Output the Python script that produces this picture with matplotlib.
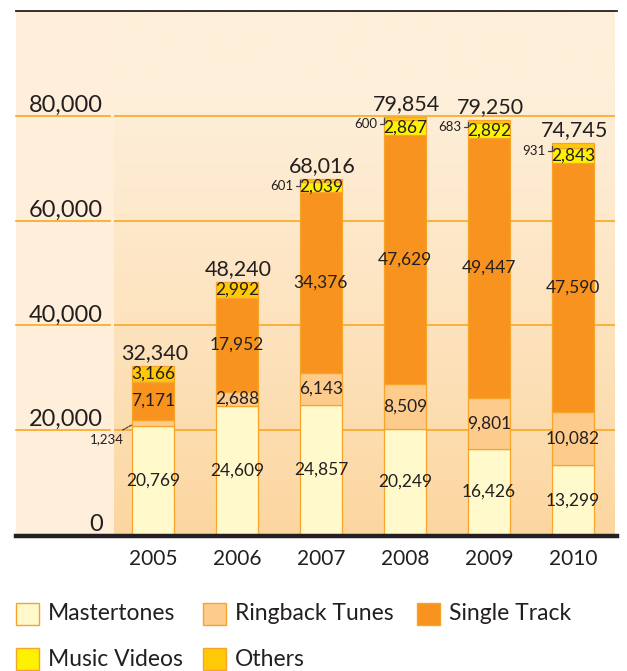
import numpy as np
import matplotlib
matplotlib.use("Agg")
import matplotlib.pyplot as plt
from matplotlib.patches import Rectangle
from matplotlib.lines import Line2D
from matplotlib.transforms import blended_transform_factory

plt.rcParams['font.family'] = ['Lato', 'DejaVu Sans']

years = ["2005", "2006", "2007", "2008", "2009", "2010"]
mastertones = [20769, 24609, 24857, 20249, 16426, 13299]
ringback = [1234, 2688, 6143, 8509, 9801, 10082]
single_track = [7171, 17952, 34376, 47629, 49447, 47590]
music_videos = [0, 0, 2039, 2867, 2892, 2843]
others = [3166, 2992, 601, 600, 683, 931]
totals = [32340, 48240, 68016, 79854, 79250, 74745]
yticks = [0, 20000, 40000, 60000, 80000]

series_names = ["Mastertones", "Ringback Tunes", "Single Track", "Music Videos", "Others"]
series = [mastertones, ringback, single_track, music_videos, others]
colors = ["#FFF9CC", "#FDCB8C", "#F7931E", "#FFF200", "#FFC907"]
edge = "#F6A52A"
txt = "#231F20"

W, H = 627, 671
fig = plt.figure(figsize=(W / 100, H / 100), dpi=100)
fig.patch.set_facecolor("white")

def fx(px):
    return px / W

def fy(py):
    return 1 - py / H

ax_l, ax_r, ax_t, ax_b = 114, 615, 11, 535
ax = fig.add_axes([fx(ax_l), fy(ax_b), fx(ax_r - ax_l), (ax_b - ax_t) / H])
ax.set_facecolor("none")
ax.set_zorder(1)

# left label strip (behind the axes)
fig.patches.append(Rectangle((fx(16), fy(ax_b)), fx(ax_l - 16), (ax_b - ax_t) / H,
                             transform=fig.transFigure, facecolor="#FEEEDA",
                             edgecolor="none", zorder=-1))

# gradient background of plot area
n = 256
t = np.linspace(0, 1, n)[:, None]  # 0 top -> 1 bottom
top_c = np.array([254, 239, 218]) / 255
bot_c = np.array([252, 214, 160]) / 255
w = np.clip((t - 0.15) / 0.85, 0, 1) ** 1.1
grad = (top_c * (1 - w) + bot_c * w)[:, None, :].repeat(2, axis=1)
ax.imshow(grad, extent=[0, 1, 0, 1], transform=ax.transAxes, aspect="auto",
          zorder=0, interpolation="bicubic")

x = np.arange(len(years))
ax.set_xlim(-0.464, 5.5)
ax.set_ylim(0, 100000)

# grid lines
blend = blended_transform_factory(fig.transFigure, ax.transData)
for yv in yticks[1:]:
    ax.axhline(yv, color="#F7A823", lw=1.2, zorder=1)
    ax.add_line(Line2D([fx(16), fx(110)], [yv, yv], transform=blend,
                       color="#F7A823", lw=1.2, clip_on=False, zorder=1))

# bars
bottom = np.zeros(len(years))
bar_w = 0.5
for name, vals, col in zip(series_names, series, colors):
    vals = np.array(vals, dtype=float)
    ax.bar(x, vals, bar_w, bottom=bottom, color=col, edgecolor=edge,
           linewidth=0.9, zorder=3, label=name)
    bottom += vals

# segment labels
cum = np.zeros(len(years))
for si, vals in enumerate(series):
    for i, v in enumerate(vals):
        if v == 0:
            continue
        c = cum[i] + v / 2
        if v >= 1500:
            ax.text(x[i], c, f"{v:,}", ha="center", va="center",
                    fontsize=12.5, color=txt, zorder=5)
        else:
            if si == 1:
                ax.annotate(f"{v:,}", xy=(x[i] - bar_w / 2, cum[i] + v * 0.2),
                            xytext=(-6, -10), textcoords="offset points",
                            ha="right", va="center", fontsize=9.5, color=txt,
                            annotation_clip=False,
                            arrowprops=dict(arrowstyle="-", color="#444444",
                                            lw=0.9, ls=(0, (2, 1)),
                                            shrinkA=0, shrinkB=0), zorder=6)
            else:
                ax.annotate(f"{v:,}", xy=(x[i] - bar_w / 2, c),
                            xytext=(-5, -4), textcoords="offset points",
                            ha="right", va="center", fontsize=9.5, color=txt,
                            arrowprops=dict(arrowstyle="-", color="#444444",
                                            lw=0.9, shrinkA=0, shrinkB=0,
                                            connectionstyle="angle,angleA=0,angleB=90,rad=0"),
                            zorder=6)
    cum += np.array(vals, dtype=float)

# totals
for i, tv in enumerate(totals):
    ax.annotate(f"{tv:,}", xy=(x[i], cum[i]), xytext=(1, 2),
                textcoords="offset points", ha="center", va="bottom",
                fontsize=15.5, color=txt, zorder=6)

# axes styling
for s in ax.spines.values():
    s.set_visible(False)
ax.set_yticks(yticks)
ax.set_yticklabels([f"{v:,}" for v in yticks], fontsize=17, color=txt)
for lab in ax.get_yticklabels():
    lab.set_va("bottom")
ax.tick_params(axis="y", length=0, pad=8)
ax.set_xticks(x)
ax.set_xticklabels(years, fontsize=15, color=txt)
ax.tick_params(axis="x", length=0, pad=10)

# top thin line and bottom thick line
fig.add_artist(Line2D([fx(16), fx(617)], [fy(11), fy(11)], transform=fig.transFigure,
                      color="#231F20", lw=1.3, zorder=3))
fig.add_artist(Line2D([fx(16), fx(617)], [fy(535.5), fy(535.5)], transform=fig.transFigure,
                      color="#231F20", lw=3.2, zorder=3))

# legend
leg_items = [(16, 614), (203, 614), (417, 614), (16, 659), (203, 659)]
for (lx, ly), name, col in zip(leg_items, series_names, colors):
    fig.patches.append(Rectangle((fx(lx), fy(ly + 11)), fx(23), 22 / H,
                                 transform=fig.transFigure, facecolor=col,
                                 edgecolor=edge, lw=1.0))
    fig.text(fx(lx + 32), fy(ly), name, ha="left", va="center",
             fontsize=16.5, color=txt)

fig.savefig("out.png", dpi=100)
